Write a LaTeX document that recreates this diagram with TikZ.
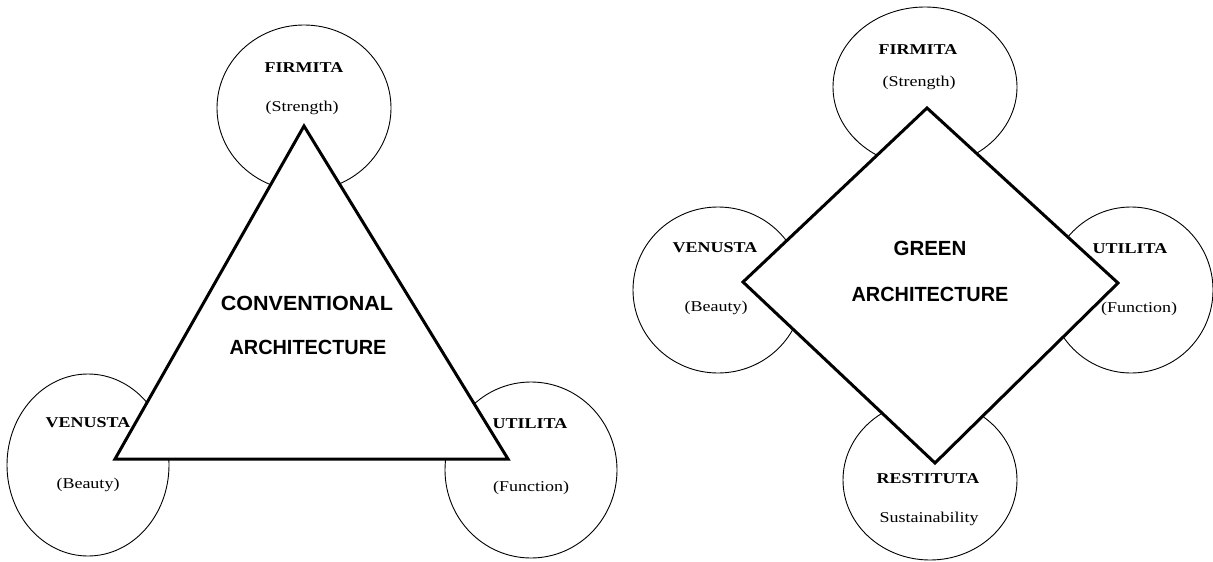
\documentclass[tikz,border=0pt]{standalone}
\usepackage{fontspec}
\usetikzlibrary{shapes.geometric}
\newfontfamily\lblfont[FakeStretch=1.2]{Liberation Serif}
\newfontfamily\hfont{Liberation Sans}
\tikzset{
  ring/.style={draw, ellipse, line width=0.9pt, inner sep=0pt},
  shapeline/.style={draw, line width=3pt, fill=white, line join=miter},
  capl/.style={font=\lblfont\bfseries\fontsize{15}{15}\selectfont, anchor=base, inner sep=0pt},
  subl/.style={font=\lblfont\fontsize{15}{15}\selectfont, anchor=base, inner sep=0pt},
  bigl/.style={font=\hfont\bfseries\fontsize{20.5}{20.5}\selectfont, anchor=base, inner sep=0pt}
}
\begin{document}
\begin{tikzpicture}[x=1pt,y=-1pt]
\useasboundingbox[fill=white] (0,0) rectangle (1213,562);
% ---- left diagram: circles
\node[ring, minimum width=174pt, minimum height=166pt] (lf) at (304,108) {};
\node[ring, minimum width=162pt, minimum height=182pt] (lv) at (88,465) {};
\node[ring, minimum width=172pt, minimum height=176pt] (lu) at (531,470) {};
% triangle
\coordinate (ta) at (304,126);
\coordinate (tl) at (115,459);
\coordinate (tr) at (508,459);
\draw[shapeline] (ta) -- (tr) -- (tl) -- cycle;
% labels
\node[capl] (lft) at (304,72) {FIRMITA};
\node[subl] (lfs) at (302,111.5) {(Strength)};
\node[capl] (lvt) at (88,427) {VENUSTA};
\node[subl] (lvs) at (88,488) {(Beauty)};
\node[capl] (lut) at (530,428) {UTILITA};
\node[subl] (lus) at (531,491) {(Function)};
\node[bigl] (lc1) at (307,310) {\scalebox{1.05}[1]{CONVENTIONAL}};
\node[bigl] (lc2) at (308,354) {\scalebox{0.97}[1]{ARCHITECTURE}};
% ---- right diagram: circles
\node[ring, minimum width=184pt, minimum height=160pt] (rf) at (925,87) {};
\node[ring, minimum width=170pt, minimum height=166pt] (rv) at (718,290) {};
\node[ring, minimum width=164pt, minimum height=166pt] (ru) at (1131,290) {};
\node[ring, minimum width=174pt, minimum height=160pt] (rr) at (930,480) {};
% diamond
\coordinate (dt) at (927,108);
\coordinate (dr) at (1118,283);
\coordinate (db) at (935,463);
\coordinate (dl) at (743,282);
\draw[shapeline] (dt) -- (dr) -- (db) -- (dl) -- cycle;
% labels
\node[capl] (rft) at (918,54) {FIRMITA};
\node[subl] (rfs) at (919,86) {(Strength)};
\node[capl] (rvt) at (715,252) {VENUSTA};
\node[subl] (rvs) at (716,311) {(Beauty)};
\node[capl] (rut) at (1130,253) {UTILITA};
\node[subl] (rus) at (1139,312) {(Function)};
\node[capl] (rrt) at (928,483) {RESTITUTA};
\node[subl] (rrs) at (929,522) {Sustainability};
\node[bigl] (rg1) at (930,255) {GREEN};
\node[bigl] (rg2) at (930,301) {\scalebox{0.97}[1]{ARCHITECTURE}};
\end{tikzpicture}
\end{document}
